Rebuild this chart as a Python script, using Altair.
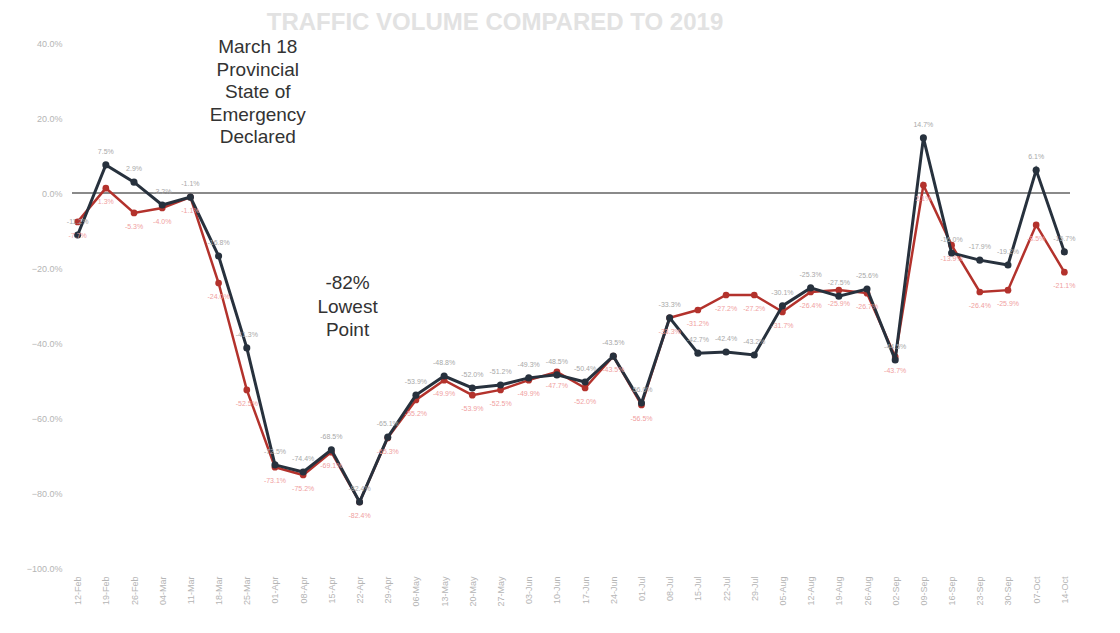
import altair as alt
import pandas as pd

weeks = ["12-Feb", "19-Feb", "26-Feb", "04-Mar", "11-Mar", "18-Mar", "25-Mar", "01-Apr",
         "08-Apr", "15-Apr", "22-Apr", "29-Apr", "06-May", "13-May", "20-May", "27-May",
         "03-Jun", "10-Jun", "17-Jun", "24-Jun", "01-Jul", "08-Jul", "15-Jul", "22-Jul",
         "29-Jul", "05-Aug", "12-Aug", "19-Aug", "26-Aug", "02-Sep", "09-Sep", "16-Sep",
         "23-Sep", "30-Sep", "07-Oct", "14-Oct"]

series_dark = [-11.2, 7.5, 2.9, -3.2, -1.1, -16.8, -41.3, -72.5, -74.4, -68.5, -82.4, -65.1,
               -53.9, -48.8, -52.0, -51.2, -49.3, -48.5, -50.4, -43.5, -56.0, -33.3, -42.7, -42.4,
               -43.2, -30.1, -25.3, -27.5, -25.6, -44.5, 14.7, -16.0, -17.9, -19.2, 6.1, -15.7]

series_red = [-7.7, 1.3, -5.3, -4.0, -1.1, -24.0, -52.5, -73.1, -75.2, -69.1, -82.4, -65.3,
              -55.2, -49.9, -53.9, -52.5, -49.9, -47.7, -52.0, -43.5, -56.5, -33.3, -31.2, -27.2,
              -27.2, -31.7, -26.4, -25.9, -26.7, -43.7, 2.1, -13.9, -26.4, -25.9, -8.5, -21.1]

y_ticks = [40, 20, 0, -20, -40, -60, -80, -100]

title_text = "TRAFFIC VOLUME COMPARED TO 2019"
note_1 = "March 18\nProvincial\nState of\nEmergency\nDeclared"
note_2 = "-82%\nLowest\nPoint"

DARK = "#27313d"
RED = "#b3322c"

df = pd.DataFrame({
    "week": weeks * 2,
    "value": series_dark + series_red,
    "series": ["Series 1"] * len(weeks) + ["Series 2"] * len(weeks),
})
df["label"] = df["value"].map(lambda v: f"{v:.1f}%")
df_dark = df[df["series"] == "Series 1"]
df_red = df[df["series"] == "Series 2"]

x_enc = alt.X("week:O", sort=weeks, scale=alt.Scale(type="point", padding=0.2),
              axis=alt.Axis(title=None, labelAngle=-90, domain=False, ticks=False,
                            labelColor="#b5b5b5", labelFontSize=9, labelPadding=8,
                            labelFont="Liberation Sans"))
y_scale = alt.Scale(domain=[-100, 40], nice=False)
y_enc = alt.Y("value:Q", scale=y_scale,
              axis=alt.Axis(title=None, values=y_ticks, grid=False, domain=False, ticks=False,
                            labelColor="#b5b5b5", labelFontSize=9, labelPadding=10,
                            labelFont="Liberation Sans",
                            labelExpr="format(datum.value, '.1f') + '%'"))

base_dark = alt.Chart(df_dark).encode(x=x_enc, y=y_enc)
base_red = alt.Chart(df_red).encode(x=x_enc, y=y_enc)

zero = alt.Chart(pd.DataFrame({"z": [0]})).mark_rule(color="#8a8a8a", strokeWidth=2).encode(
    y=alt.Y("z:Q", scale=y_scale))

red_line = base_red.mark_line(color=RED, strokeWidth=2.5)
red_pts = base_red.mark_circle(color=RED, size=45, opacity=1)
dark_line = base_dark.mark_line(color=DARK, strokeWidth=3)
dark_pts = base_dark.mark_circle(color=DARK, size=50, opacity=1)

red_lbl = base_red.mark_text(color="#f0a0a0", fontSize=7, dy=14, font="Liberation Sans").encode(
    text="label:N")
dark_lbl = base_dark.mark_text(color="#a8a8a8", fontSize=7, dy=-13, font="Liberation Sans").encode(
    text="label:N")

ann1 = alt.Chart(pd.DataFrame({"week": ["25-Mar"], "value": [41.3], "t": [note_1]})).mark_text(
    fontSize=19, lineHeight=22.5, align="center", baseline="top", lineBreak="\n",
    font="Liberation Sans", color="#333333", dx=11).encode(
    x=alt.X("week:O", sort=weeks), y=alt.Y("value:Q", scale=y_scale), text="t:N")

ann2 = alt.Chart(pd.DataFrame({"week": ["22-Apr"], "value": [-21.6], "t": [note_2]})).mark_text(
    fontSize=19, lineHeight=23.5, align="center", baseline="top", lineBreak="\n",
    font="Liberation Sans", color="#333333", dx=-12).encode(
    x=alt.X("week:O", sort=weeks), y=alt.Y("value:Q", scale=y_scale), text="t:N")

title = alt.Chart(pd.DataFrame({"t": [title_text]})).mark_text(
    fontSize=24, fontWeight="bold", align="center", baseline="alphabetic",
    font="Liberation Sans", color="#e2e2e2").encode(
    x=alt.value(423), y=alt.value(-13), text="t:N")

chart = alt.layer(zero, red_line, red_pts, dark_line, dark_pts, red_lbl, dark_lbl,
                  ann1, ann2, title).properties(
    width=998, height=525,
    padding={"left": 64, "top": 35, "right": 42, "bottom": 60},
    autosize=alt.AutoSizeParams(type="none"),
).configure(background="white", view=alt.ViewConfig(stroke=None))

chart.save("out.html", embed_options={"renderer": "svg", "actions": False})
